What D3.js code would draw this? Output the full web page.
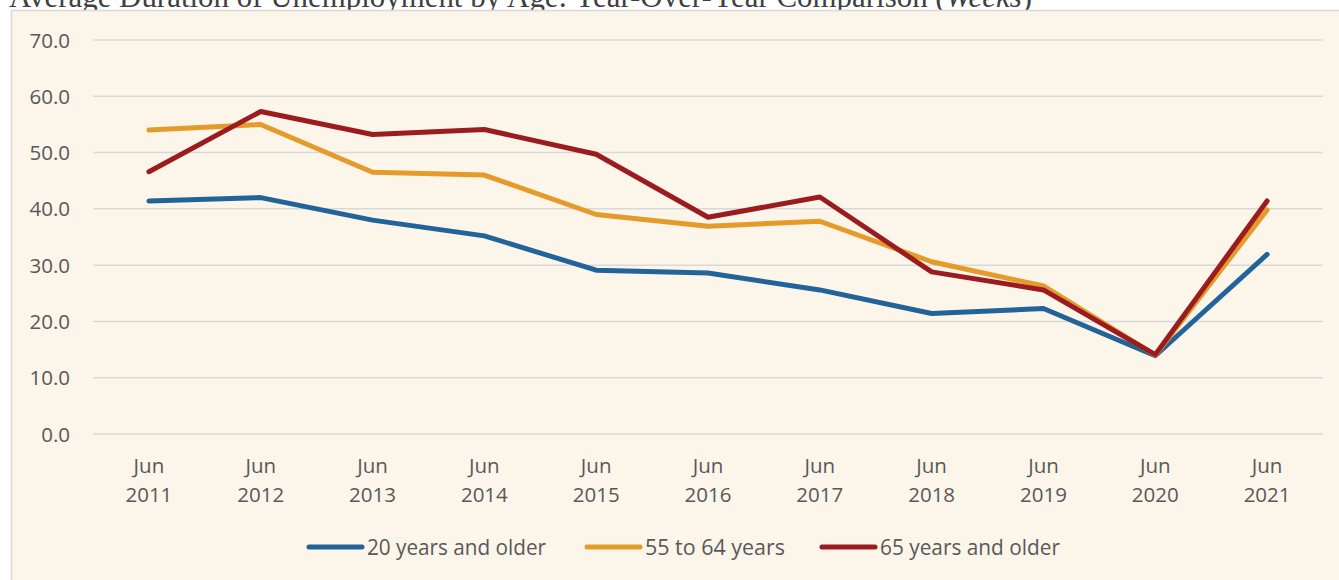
<!DOCTYPE html>
<html><head><meta charset="utf-8">
<script src="https://cdn.jsdelivr.net/npm/d3@7"></script>
<style>html,body{margin:0;padding:0;background:#fff;overflow:hidden}</style>
</head><body>
<svg id="c" width="1339" height="580"></svg>
<script>
const categories = ["2011","2012","2013","2014","2015","2016","2017","2018","2019","2020","2021"];
const s20plus = [41.4,42.0,38.0,35.2,29.1,28.6,25.6,21.4,22.3,13.9,31.9];
const s55to64 = [54.0,55.0,46.5,46.0,39.0,36.9,37.8,30.6,26.3,14.0,39.8];
const s65plus = [46.6,57.3,53.2,54.1,49.7,38.5,42.1,28.8,25.6,14.1,41.4];
const yTicks = [0,10,20,30,40,50,60,70];
const seriesNames = ["20 years and older","55 to 64 years","65 years and older"];
const colors = ["#22639A","#E49B2A","#9B1C1F"];
const series = [s20plus, s55to64, s65plus];

const svg = d3.select("#c");
const title = svg.append("text").attr("x",9).attr("y",7)
  .attr("font-family","Liberation Serif, serif").attr("font-size",31).attr("fill","#404040")
  .attr("textLength",1023).attr("lengthAdjust","spacingAndGlyphs");
title.append("tspan").text("Average Duration of Unemployment by Age: Year-Over-Year Comparison (");
title.append("tspan").attr("font-style","italic").text("Weeks");
title.append("tspan").text(")");

svg.append("rect").attr("x",11.5).attr("y",10.5).attr("width",1340).attr("height",580)
  .attr("fill","#FCF5EA").attr("stroke","#D9D9D9").attr("stroke-width",1.5);

const x = d3.scaleBand().domain(categories).range([93,1323]);
const y = d3.scaleLinear().domain([0,70]).range([434,40]);

const g = svg.append("g");
g.selectAll("line.grid").data(yTicks).join("line")
  .attr("x1",93).attr("x2",1323).attr("y1",d=>y(d)).attr("y2",d=>y(d))
  .attr("stroke","#D9D9D9").attr("stroke-width",1.5);
g.selectAll("text.yl").data(yTicks).join("text")
  .attr("x",70).attr("y",d=>y(d)+7.5).attr("text-anchor","end")
  .attr("font-family","Open Sans, sans-serif").attr("font-size",20.5).attr("fill","#595959")
  .text(d=>d.toFixed(1));
const xl = g.selectAll("text.xl").data(categories).join("text")
  .attr("text-anchor","middle").attr("font-family","Open Sans, sans-serif")
  .attr("font-size",20.5).attr("fill","#595959");
xl.append("tspan").attr("x",d=>x(d)+x.bandwidth()/2).attr("y",473).text("Jun");
xl.append("tspan").attr("x",d=>x(d)+x.bandwidth()/2).attr("y",502).text(d=>d);

const line = d3.line().x((d,i)=>x(categories[i])+x.bandwidth()/2).y(d=>y(d));
series.forEach((s,k)=>{
  g.append("path").attr("d",line(s)).attr("fill","none").attr("stroke",colors[k])
   .attr("stroke-width",5).attr("stroke-linecap","round").attr("stroke-linejoin","round");
});

const legX = [309,587,822];
const legW = [179,140,180];
seriesNames.forEach((n,k)=>{
  g.append("line").attr("x1",legX[k]).attr("x2",legX[k]+53).attr("y1",547).attr("y2",547)
   .attr("stroke",colors[k]).attr("stroke-width",5).attr("stroke-linecap","round");
  g.append("text").attr("x",legX[k]+58).attr("y",555)
   .attr("font-family","Open Sans, sans-serif").attr("font-size",21)
   .attr("fill","#595959").attr("textLength",legW[k]).attr("lengthAdjust","spacingAndGlyphs").text(n);
});
</script>
</body></html>
